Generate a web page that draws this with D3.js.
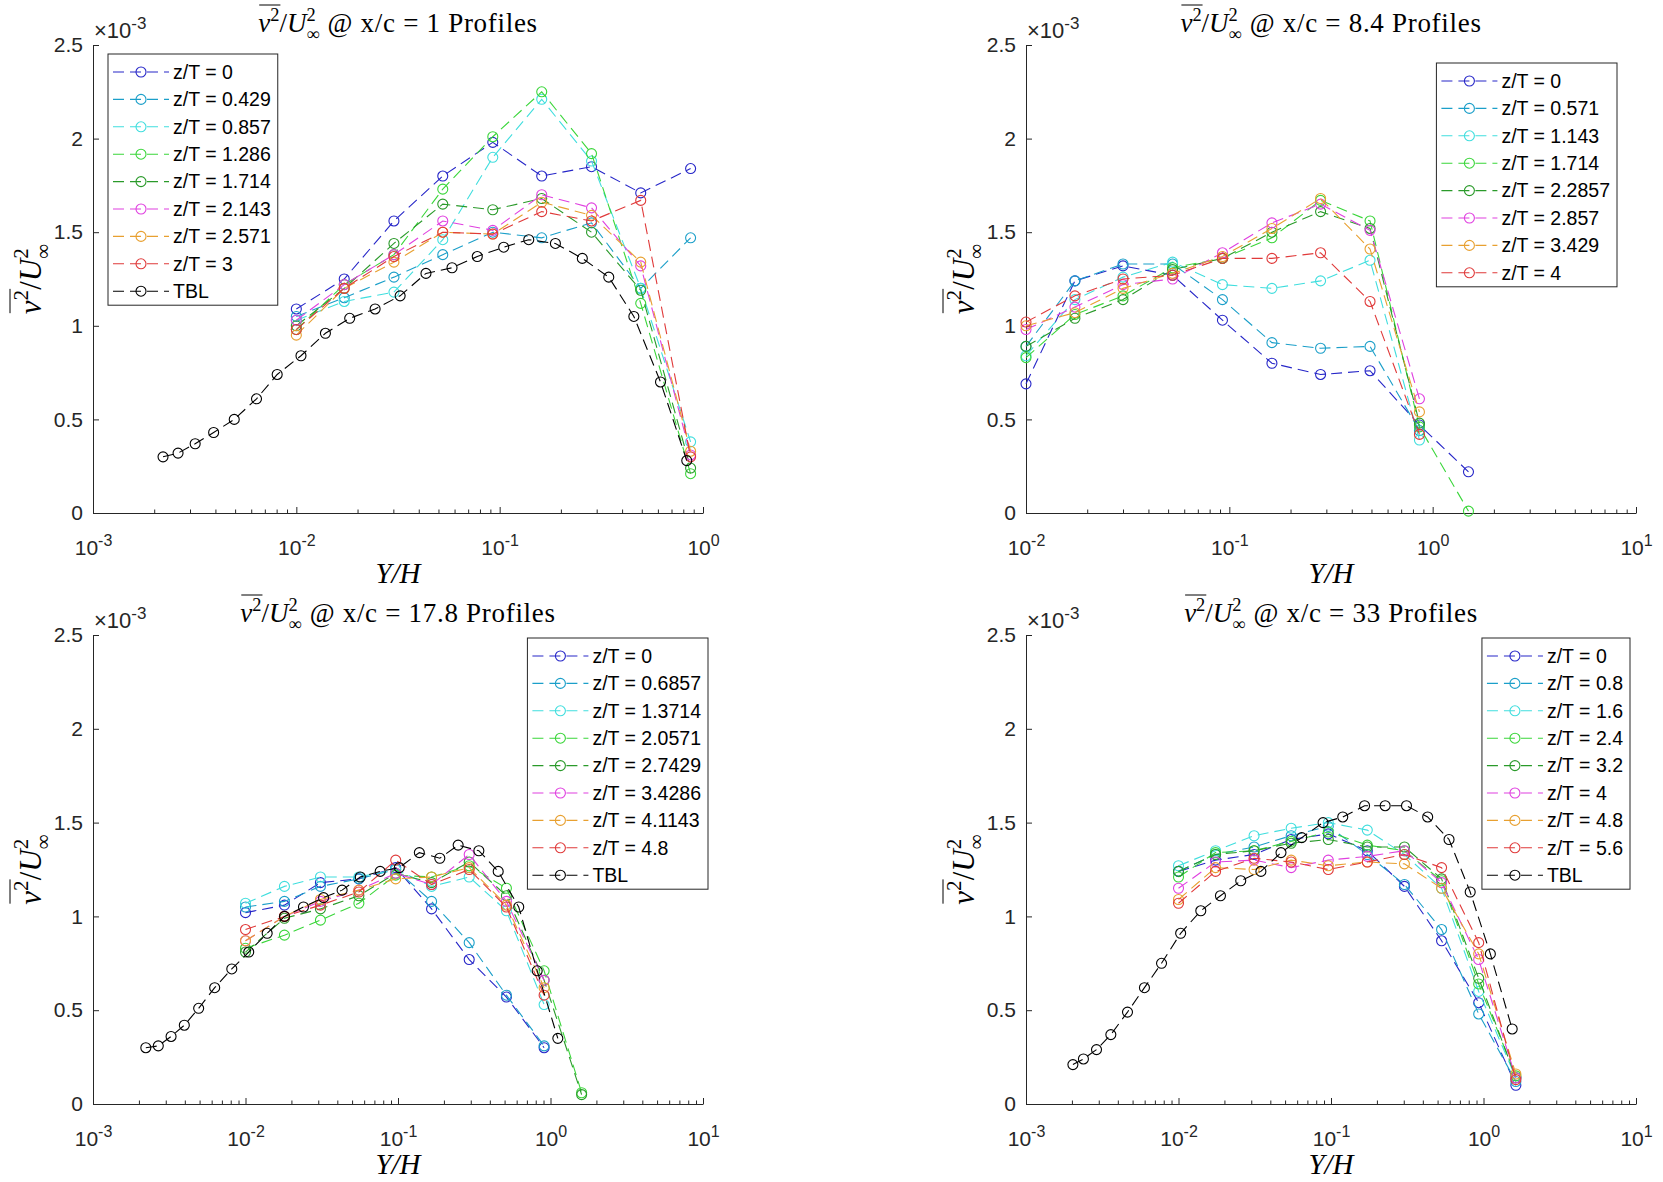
<!DOCTYPE html>
<html>
<head>
<meta charset="utf-8">
<script src="https://cdn.jsdelivr.net/npm/d3@7"></script>
<style>
    body { margin: 0; background: #fff; }
    svg { display: block; }
</style>
</head>
<body>
<svg width="1663" height="1182"></svg>
<script>
// values are v^2/U^2 in units of 1e-3
const colors = ['#2626c8', '#1b9fc9', '#40dede', '#3ad63a', '#2a9a2a', '#e040e0', '#e8a030', '#e03a3a', '#000000'];
const yTicks = [0, 0.5, 1, 1.5, 2, 2.5];

// x/c = 1
const p1Names = ['z/T = 0', 'z/T = 0.429', 'z/T = 0.857', 'z/T = 1.286', 'z/T = 1.714', 'z/T = 2.143', 'z/T = 2.571', 'z/T = 3', 'TBL'];
const p1YH = [0.01, 0.0172, 0.0302, 0.0525, 0.0925, 0.161, 0.283, 0.494, 0.869];
const p1Series = [
    [1.09, 1.25, 1.56, 1.80, 1.98, 1.80, 1.85, 1.71, 1.84],
    [1.05, 1.15, 1.26, 1.38, 1.50, 1.47, 1.55, 1.20, 1.47],
    [1.03, 1.13, 1.18, 1.46, 1.90, 2.21, 1.88, 1.20, 0.38],
    [0.98, 1.22, 1.38, 1.73, 2.01, 2.25, 1.92, 1.12, 0.21],
    [1.00, 1.20, 1.44, 1.65, 1.62, 1.68, 1.50, 1.19, 0.24],
    [1.03, 1.22, 1.38, 1.56, 1.51, 1.70, 1.63, 1.32, 0.31],
    [0.95, 1.20, 1.34, 1.50, 1.49, 1.66, 1.59, 1.34, 0.33],
    [0.98, 1.20, 1.37, 1.50, 1.49, 1.61, 1.56, 1.67, 0.30]
];
const p1TblYH = [0.00221, 0.00262, 0.00318, 0.00392, 0.00495, 0.00637, 0.00805, 0.01054, 0.0139, 0.0183, 0.0244, 0.0324,
    0.0434, 0.0583, 0.0776, 0.1047, 0.139, 0.188, 0.255, 0.344, 0.457, 0.618, 0.832];
const p1Tbl = [0.30, 0.32, 0.37, 0.43, 0.50, 0.61, 0.74, 0.84, 0.96, 1.04, 1.09, 1.16, 1.28, 1.31, 1.37, 1.42, 1.46, 1.44,
    1.36, 1.26, 1.05, 0.70, 0.28];

// x/c = 8.4
const p2Names = ['z/T = 0', 'z/T = 0.571', 'z/T = 1.143', 'z/T = 1.714', 'z/T = 2.2857', 'z/T = 2.857', 'z/T = 3.429', 'z/T = 4'];
const p2YH = [0.01, 0.0174, 0.030, 0.0526, 0.0925, 0.162, 0.281, 0.492, 0.861, 1.50];
const p2Series = [
    [0.69, 1.24, 1.32, 1.27, 1.03, 0.80, 0.74, 0.76, 0.47, 0.22],
    [0.89, 1.24, 1.33, 1.33, 1.14, 0.91, 0.88, 0.89, 0.44],
    [0.84, 1.14, 1.26, 1.34, 1.22, 1.20, 1.24, 1.35, 0.39],
    [0.83, 1.06, 1.16, 1.31, 1.36, 1.47, 1.67, 1.56, 0.46, 0.01],
    [0.89, 1.04, 1.14, 1.30, 1.36, 1.50, 1.61, 1.52, 0.48],
    [0.98, 1.10, 1.22, 1.25, 1.39, 1.55, 1.65, 1.51, 0.61],
    [1.00, 1.07, 1.20, 1.28, 1.37, 1.52, 1.68, 1.41, 0.54],
    [1.02, 1.16, 1.25, 1.27, 1.36, 1.36, 1.39, 1.13, 0.42]
];

// x/c = 17.8
const p3Names = ['z/T = 0', 'z/T = 0.6857', 'z/T = 1.3714', 'z/T = 2.0571', 'z/T = 2.7429', 'z/T = 3.4286', 'z/T = 4.1143', 'z/T = 4.8', 'TBL'];
const p3YH = [0.01, 0.018, 0.031, 0.0554, 0.0966, 0.166, 0.293, 0.514, 0.908, 1.60];
const p3Series = [
    [1.02, 1.06, 1.18, 1.20, 1.26, 1.04, 0.77, 0.57, 0.30],
    [1.05, 1.08, 1.16, 1.20, 1.25, 1.08, 0.86, 0.58, 0.31],
    [1.07, 1.16, 1.21, 1.21, 1.25, 1.16, 1.21, 1.03, 0.53],
    [0.83, 0.90, 0.98, 1.07, 1.22, 1.21, 1.27, 1.15, 0.71, 0.06],
    [0.81, 0.99, 1.04, 1.11, 1.23, 1.18, 1.29, 1.11, 0.66, 0.05],
    [0.87, 1.00, 1.08, 1.14, 1.23, 1.17, 1.33, 1.08, 0.66],
    [0.87, 1.00, 1.09, 1.14, 1.20, 1.21, 1.26, 1.06, 0.62],
    [0.93, 1.00, 1.06, 1.13, 1.30, 1.17, 1.25, 1.05, 0.58]
];
const p3TblYH = [0.00222, 0.00268, 0.00325, 0.00397, 0.00493, 0.00628, 0.00813, 0.0105, 0.01387, 0.01803, 0.024, 0.0325,
    0.043, 0.0566, 0.0764, 0.102, 0.138, 0.188, 0.248, 0.339, 0.454, 0.619, 0.818, 1.117];
const p3Tbl = [0.30, 0.31, 0.36, 0.42, 0.51, 0.62, 0.72, 0.81, 0.91, 1.00, 1.05, 1.10, 1.14, 1.21, 1.24, 1.26, 1.34, 1.31,
    1.38, 1.35, 1.24, 1.05, 0.71, 0.35];

// x/c = 33
const p4Names = ['z/T = 0', 'z/T = 0.8', 'z/T = 1.6', 'z/T = 2.4', 'z/T = 3.2', 'z/T = 4', 'z/T = 4.8', 'z/T = 5.6', 'TBL'];
const p4YH = [0.01, 0.0175, 0.0313, 0.0548, 0.096, 0.173, 0.303, 0.531, 0.93, 1.63];
const p4Series = [
    [1.24, 1.30, 1.33, 1.41, 1.44, 1.35, 1.16, 0.87, 0.54, 0.10],
    [1.24, 1.33, 1.37, 1.43, 1.48, 1.33, 1.17, 0.93, 0.48, 0.12],
    [1.27, 1.35, 1.43, 1.47, 1.50, 1.46, 1.33, 1.15, 0.60, 0.14],
    [1.21, 1.34, 1.35, 1.40, 1.45, 1.38, 1.35, 1.19, 0.64, 0.15],
    [1.24, 1.33, 1.35, 1.39, 1.41, 1.37, 1.37, 1.20, 0.67, 0.14],
    [1.15, 1.29, 1.30, 1.26, 1.30, 1.32, 1.35, 1.18, 0.77, 0.14],
    [1.09, 1.26, 1.25, 1.30, 1.27, 1.29, 1.28, 1.15, 0.80, 0.16],
    [1.07, 1.24, 1.31, 1.29, 1.25, 1.29, 1.33, 1.26, 0.86, 0.13]
];
const p4TblYH = [0.00203, 0.00238, 0.0029, 0.0036, 0.00463, 0.00598, 0.00774, 0.01033, 0.014, 0.01884, 0.0256, 0.0347,
    0.047, 0.0643, 0.0887, 0.1194, 0.166, 0.2265, 0.3126, 0.4305, 0.5943, 0.818, 1.109, 1.542];
const p4Tbl = [0.21, 0.24, 0.29, 0.37, 0.49, 0.62, 0.75, 0.91, 1.03, 1.11, 1.19, 1.24, 1.34, 1.42, 1.50, 1.53, 1.59, 1.59,
    1.59, 1.53, 1.41, 1.13, 0.80, 0.40];

const panels = [
    { xc: '1', exps: [-3, -2, -1, 0], left: 93, right: 703, top: 45, bottom: 513,
      names: p1Names, yh: p1YH, series: p1Series, tblYH: p1TblYH, tbl: p1Tbl, leg: { left: 108, top: 54 } },
    { xc: '8.4', exps: [-2, -1, 0, 1], left: 1026, right: 1636, top: 45, bottom: 513,
      names: p2Names, yh: p2YH, series: p2Series, tblYH: null, tbl: null, leg: { right: 1617, top: 63 } },
    { xc: '17.8', exps: [-3, -2, -1, 0, 1], left: 93, right: 703, top: 635, bottom: 1104,
      names: p3Names, yh: p3YH, series: p3Series, tblYH: p3TblYH, tbl: p3Tbl, leg: { right: 708, top: 638 } },
    { xc: '33', exps: [-3, -2, -1, 0, 1], left: 1026, right: 1636, top: 635, bottom: 1104,
      names: p4Names, yh: p4YH, series: p4Series, tblYH: p4TblYH, tbl: p4Tbl, leg: { right: 1630, top: 638 } }
];

const svg = d3.select('svg');
const axisColor = '#262626';
const sansFont = "'Liberation Sans', Arial, sans-serif";
const serifFont = "'Liberation Serif', 'Times New Roman', serif";
const dash = '11,6';

// v^2/U_inf^2 label with overline, optional tail text
function fracLabel(parent, cx, cy, size, tail, rotate, spacing) {
    const grp = parent.append('g')
        .attr('transform', `translate(${cx},${cy})` + (rotate ? ' rotate(-90)' : ''));
    const t = grp.append('text').attr('x', 0).attr('y', 0)
        .attr('font-family', serifFont).attr('font-size', size).attr('fill', '#000');
    const sup = size * 0.68;
    t.append('tspan').attr('font-style', 'italic').text('v');
    t.append('tspan').attr('font-size', sup).attr('dy', -size * 0.42).text('2');
    t.append('tspan').attr('dy', size * 0.42).text('/');
    t.append('tspan').attr('font-style', 'italic').text('U');
    t.append('tspan').attr('font-size', sup).attr('dy', -size * 0.42).text('2');
    t.append('tspan').attr('font-size', sup).attr('dx', -sup * 0.5).attr('dy', size * 0.7).text('∞');
    if (tail) t.append('tspan').attr('dy', -size * 0.28).attr('dx', size * 0.3)
        .attr('letter-spacing', spacing || 0).text(tail);
    const bb = t.node().getBBox();
    const shift = -(bb.x + bb.width / 2);
    t.attr('x', shift);
    const vw = t.node().getSubStringLength(0, 2);
    grp.append('line')
        .attr('x1', shift + 1).attr('x2', shift + vw + 1)
        .attr('y1', -size * 1.0).attr('y2', -size * 1.0)
        .attr('stroke', '#000').attr('stroke-width', 1);
}

panels.forEach(p => {
    const g = svg.append('g');
    const x = d3.scaleLog().domain([10 ** p.exps[0], 10 ** p.exps[p.exps.length - 1]]).range([p.left, p.right]);
    const y = d3.scaleLinear().domain([0, 2.5]).range([p.bottom, p.top]);

    // minor log ticks
    const minor = [];
    for (let e = p.exps[0]; e < p.exps[p.exps.length - 1]; e++)
        for (let k = 2; k < 10; k++) minor.push(k * 10 ** e);

    g.append('g').attr('transform', `translate(0,${p.bottom})`)
        .call(d3.axisBottom(x).tickValues(minor).tickSizeInner(-3.5).tickSizeOuter(0).tickFormat(''))
        .call(a => a.select('.domain').remove())
        .call(a => a.selectAll('line').attr('stroke', axisColor));

    const xAxis = g.append('g').attr('transform', `translate(0,${p.bottom})`)
        .call(d3.axisBottom(x).tickValues(p.exps.map(e => 10 ** e)).tickSizeInner(-6).tickSizeOuter(0).tickFormat(''));
    xAxis.select('.domain').attr('stroke', axisColor);
    xAxis.selectAll('line').attr('stroke', axisColor);
    xAxis.selectAll('.tick text').remove();
    xAxis.selectAll('.tick').each(function (d) {
        const t = d3.select(this).append('text')
            .attr('y', 42).attr('text-anchor', 'middle')
            .attr('font-family', sansFont).attr('font-size', 21).attr('fill', axisColor);
        t.append('tspan').text('10');
        t.append('tspan').attr('font-size', 16).attr('dy', -9).text(Math.round(Math.log10(d)));
    });

    const yAxis = g.append('g').attr('transform', `translate(${p.left},0)`)
        .call(d3.axisLeft(y).tickValues(yTicks).tickSizeInner(-6).tickSizeOuter(0).tickPadding(10).tickFormat(d => d));
    yAxis.select('.domain').attr('stroke', axisColor);
    yAxis.selectAll('line').attr('stroke', axisColor);
    yAxis.selectAll('text').attr('font-family', sansFont).attr('font-size', 21).attr('fill', axisColor);

    // x10^-3 multiplier
    const mult = g.append('text').attr('x', p.left + 1).attr('y', p.top - 7)
        .attr('font-family', sansFont).attr('font-size', 22).attr('fill', axisColor);
    mult.append('tspan').text('×10');
    mult.append('tspan').attr('font-size', 17).attr('dy', -9).text('-3');

    // titles and labels
    const cx = (p.left + p.right) / 2;
    fracLabel(g, cx, p.top - 13, 27, '@ x/c = ' + p.xc + ' Profiles', false, 0.7);
    fracLabel(g, p.left - 52, (p.top + p.bottom) / 2, 31, null, true);
    g.append('text').attr('x', cx).attr('y', p.bottom + 70).attr('text-anchor', 'middle')
        .attr('font-family', serifFont).attr('font-style', 'italic').attr('font-size', 29).text('Y/H');

    // data
    const line = d3.line().x(d => x(d[0])).y(d => y(d[1]));
    const all = p.series.map((s, i) => ({ pts: s.map((v, j) => [p.yh[j], v]), color: colors[i] }));
    if (p.tbl) all.push({ pts: p.tbl.map((v, j) => [p.tblYH[j], v]), color: colors[8] });

    all.forEach(s => {
        g.append('path').attr('d', line(s.pts))
            .attr('fill', 'none').attr('stroke', s.color).attr('stroke-width', 1.1)
            .attr('stroke-dasharray', dash);
        g.append('g').selectAll('circle').data(s.pts).enter().append('circle')
            .attr('cx', d => x(d[0])).attr('cy', d => y(d[1])).attr('r', 5)
            .attr('fill', 'none').attr('stroke', s.color).attr('stroke-width', 1.1);
    });

    // legend
    const leg = g.append('g');
    const rowH = 27.4;
    const texts = leg.selectAll('text').data(p.names).enter().append('text')
        .attr('font-family', sansFont).attr('font-size', 19.5).attr('fill', '#000')
        .attr('dy', '0.35em').text(d => d);
    let maxW = 0;
    texts.each(function () { maxW = Math.max(maxW, this.getComputedTextLength()); });
    const boxW = 65 + maxW + 7;
    const boxH = 18 + (p.names.length - 1) * rowH + 14;
    const lx = p.leg.left !== undefined ? p.leg.left : p.leg.right - boxW;
    leg.insert('rect', 'text').attr('x', lx).attr('y', p.leg.top).attr('width', boxW).attr('height', boxH)
        .attr('fill', '#fff').attr('stroke', axisColor).attr('stroke-width', 1);
    texts.attr('x', lx + 65).attr('y', (d, i) => p.leg.top + 18 + i * rowH);
    p.names.forEach((n, i) => {
        const c = n === 'TBL' ? colors[8] : colors[i];
        const ry = p.leg.top + 18 + i * rowH;
        leg.append('line').attr('x1', lx + 5).attr('x2', lx + 61).attr('y1', ry).attr('y2', ry)
            .attr('stroke', c).attr('stroke-width', 1.1).attr('stroke-dasharray', dash);
        leg.append('circle').attr('cx', lx + 33).attr('cy', ry).attr('r', 5)
            .attr('fill', 'none').attr('stroke', c).attr('stroke-width', 1.1);
    });
});
</script>
</body>
</html>
